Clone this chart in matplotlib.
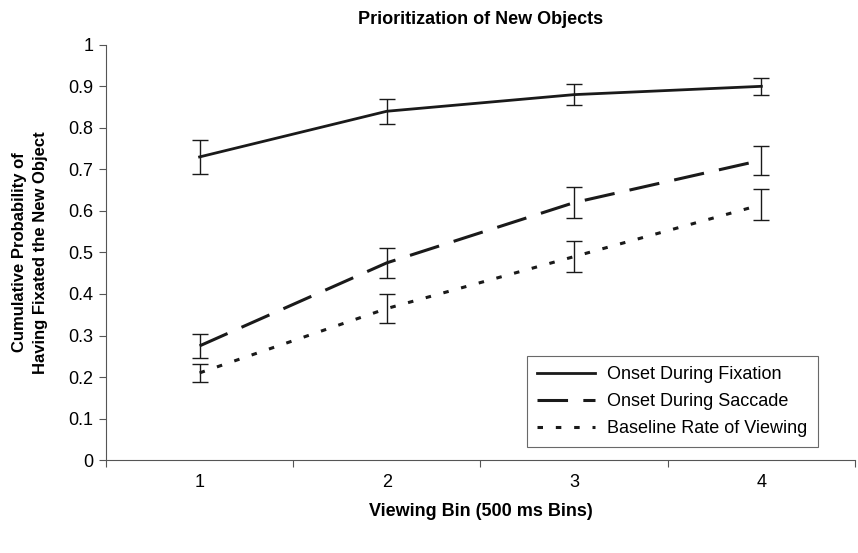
import matplotlib
matplotlib.use("Agg")
import matplotlib.pyplot as plt
from matplotlib.ticker import FixedLocator, NullFormatter
from matplotlib.lines import Line2D

plt.rcParams['font.family'] = ['Liberation Sans', 'DejaVu Sans']

bins = [1, 2, 3, 4]
xlabels = ['1', '2', '3', '4']
fixation = [0.73, 0.84, 0.88, 0.90]
fixation_err = [0.04, 0.03, 0.026, 0.02]
saccade = [0.275, 0.475, 0.62, 0.722]
saccade_err = [0.028, 0.036, 0.038, 0.035]
baseline = [0.21, 0.365, 0.49, 0.615]
baseline_err = [0.022, 0.035, 0.038, 0.037]

fig = plt.figure(figsize=(8.58, 5.53), dpi=100)
ax = fig.add_axes([0.1235, 0.168, 0.873, 0.751])

c = '#1a1a1a'
ls_sac = (0, (10, 5))
ls_base = (0, (1.8, 4.2))
ax.errorbar(bins, fixation, yerr=fixation_err, color=c, lw=2, ls='-',
            elinewidth=1, capsize=6, capthick=1, label='Onset During Fixation')
ax.errorbar(bins, saccade, yerr=saccade_err, color=c, lw=2.2, ls=ls_sac,
            elinewidth=1, capsize=6, capthick=1, label='Onset During Saccade')
ax.errorbar(bins, baseline, yerr=baseline_err, color=c, lw=2.2, ls=ls_base,
            elinewidth=1, capsize=6, capthick=1, label='Baseline Rate of Viewing')

ax.set_xlim(0.5, 4.5)
ax.set_ylim(0, 1)
ax.set_yticks([i / 10 for i in range(11)])
ax.set_yticklabels(['0', '0.1', '0.2', '0.3', '0.4', '0.5', '0.6', '0.7', '0.8', '0.9', '1'])
ax.set_xticks(bins)
ax.set_xticklabels(xlabels)
ax.tick_params(axis='x', which='major', length=0, labelsize=13, pad=10)
ax.xaxis.set_minor_locator(FixedLocator([0.5, 1.5, 2.5, 3.5, 4.5]))
ax.xaxis.set_minor_formatter(NullFormatter())
ax.tick_params(axis='x', which='minor', length=5, direction='out', width=0.8, color='#555555')
ax.tick_params(axis='y', length=5, direction='out', width=0.8, labelsize=13, pad=4, color='#555555')

for s in ['top', 'right']:
    ax.spines[s].set_visible(False)
for s in ['left', 'bottom']:
    ax.spines[s].set_color('#555555')
    ax.spines[s].set_linewidth(0.8)

ax.set_title('Prioritization of New Objects', fontsize=13, fontweight='bold', pad=15)
ax.set_xlabel('Viewing Bin (500 ms Bins)', fontsize=13, fontweight='bold', labelpad=9)
ax.set_ylabel('Cumulative Probability of\nHaving Fixated the New Object', fontsize=12,
              fontweight='bold', linespacing=1.45)
ax.yaxis.set_label_coords(-0.078, 0.5)

labels = ['Onset During Fixation', 'Onset During Saccade', 'Baseline Rate of Viewing']
hs = [Line2D([], [], color=c, lw=2, ls='-'),
      Line2D([], [], color=c, lw=2.2, ls=ls_sac),
      Line2D([], [], color=c, lw=2.2, ls=ls_base)]
leg = ax.legend(hs, labels, loc='lower right', bbox_to_anchor=(0.95, 0.031),
                fontsize=13, frameon=True, fancybox=False, edgecolor='#444444',
                handlelength=3.2, handletextpad=0.7, borderpad=0.55, labelspacing=0.55,
                borderaxespad=0)
leg.get_frame().set_linewidth(0.8)

fig.savefig('out.png', dpi=100)
